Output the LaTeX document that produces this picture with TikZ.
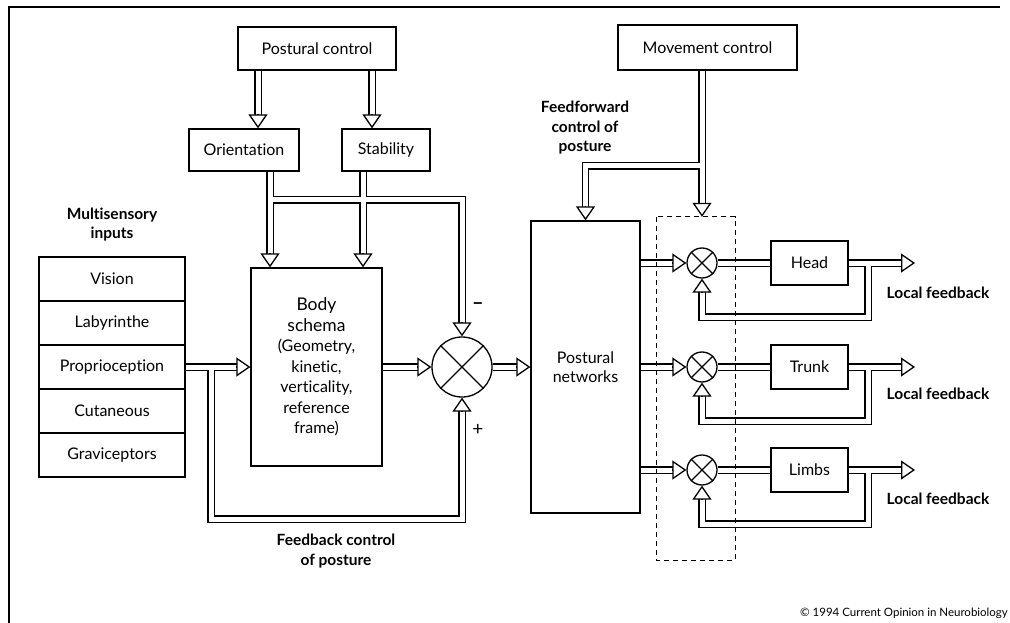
\documentclass[tikz,border=0pt]{standalone}
\usepackage{fontspec}
\setmainfont{Lato}[Ligatures={TeX,NoCommon}]
\usetikzlibrary{arrows.meta,calc}
\begin{document}
\begin{tikzpicture}[x=1pt,y=-1pt,
  box/.style={draw, line width=1.3pt, fill=white, inner sep=0pt, align=center, font=\fontsize{16}{19}\selectfont},
  chan/.style={draw=black, double=white, double distance=5pt, line width=1.3pt, line join=miter},
  tipa/.style={-{Triangle[open,fill=white,length=14pt,width=19pt]}, line width=1.3pt},
  lbl/.style={font=\bfseries\fontsize{15.5}{19.5}\selectfont, align=center, inner sep=0pt},
  summ/.style={circle, draw, line width=1.3pt, fill=white, inner sep=0pt},
  dbx/.style={draw, line width=1.3pt, dash pattern=on 5pt off 4pt}]
\fill[white] (0,0) rectangle (1010,623);
\useasboundingbox (0,0) rectangle (1010,623);
\draw[line width=1.5pt] (1000,7) -- (9,7) -- (9,623);

% boxes
\node[box, minimum width=158pt, minimum height=43pt] (pc) at (317,48.5) {Postural control};
\node[box, minimum width=110pt, minimum height=42pt] (ori) at (244,150) {Orientation};
\node[box, minimum width=88pt, minimum height=42pt] (stab) at (386,150) {Stability};
\node[box, minimum width=131pt, minimum height=198pt, font=\fontsize{16}{20.5}\selectfont] (body) at (316.5,367)
  {\fontsize{17.5}{22}\selectfont Body\\\fontsize{17.5}{22}\selectfont schema\\\fontsize{16}{21}\selectfont (Geometry,\\kinetic,\\verticality,\\reference\\frame)};
\node[box, minimum width=146pt, minimum height=44pt] (vis) at (112,279) {Vision};
\node[box, minimum width=146pt, minimum height=44pt] (lab) at (112,323) {Labyrinthe};
\node[box, minimum width=146pt, minimum height=44pt] (pro) at (112,367) {Proprioception};
\node[box, minimum width=146pt, minimum height=44pt] (cut) at (112,411) {Cutaneous};
\node[box, minimum width=146pt, minimum height=44pt] (gra) at (112,455) {Graviceptors};
\node[summ, minimum size=60pt] (sum) at (462,367) {};
\node[box, minimum width=109pt, minimum height=292pt] (pn) at (585.5,367) {Postural\\networks};
\node[box, minimum width=179pt, minimum height=45pt] (mc) at (707.5,47.5) {Movement control};
\node[inner sep=0pt, minimum width=78pt, minimum height=343pt] (dbox) at (696,388.5) {};
\node[summ, minimum size=30pt] (s1) at (702,263) {};
\node[summ, minimum size=30pt] (s2) at (702,367) {};
\node[summ, minimum size=30pt] (s3) at (702,470) {};
\node[box, minimum width=77pt, minimum height=44pt] (head) at (809.5,263) {Head};
\node[box, minimum width=77pt, minimum height=44pt] (trunk) at (809.5,367) {Trunk};
\node[box, minimum width=77pt, minimum height=44pt] (limbs) at (809.5,470) {Limbs};

\foreach \c in {sum,s1,s2,s3}{
  \draw[line width=1.3pt] (\c.north west) -- (\c.south east) (\c.north east) -- (\c.south west);
}

% free coordinates
\coordinate (jo) at (270,200);
\coordinate (jr) at (462,200);
\coordinate (jp) at (211,367);
\coordinate (jb) at (211,519);
\coordinate (jc) at (462,519);
\coordinate (ff) at (702,166);
\coordinate (ff2) at (585.5,166);
\coordinate (o1) at (915,263);
\coordinate (o2) at (915,367);
\coordinate (o3) at (915,470);

% channels
\draw[chan] ($(pc.south)+(-59,0)$) -- ($(ori.north)+(14,-13)$);
\draw[chan] ($(pc.south)+(55,0)$) -- ($(stab.north)+(-14,-13)$);
\draw[chan] ($(ori.south)+(26,0)$) -- ($(body.north)+(-46.5,-13)$)
  ($(stab.south)+(-23,0)$) -- ($(body.north)+(46.5,-13)$)
  (jo) -- (jr) -- ($(sum.north)+(0,-13)$);
\draw[chan] (pro.east) -- ($(body.west)+(-13,0)$)
  (jp) -- (jb) -- (jc) -- ($(sum.south)+(0,13)$);
\draw[chan] (body.east) -- ($(sum.west)+(-13,0)$);
\draw[chan] (sum.east) -- ($(pn.west)+(-13,0)$);
\draw[chan] (s1 |- mc.south) -- ($(s1 |- dbox.north)+(0,-13)$)
  (ff) -- (ff2) -- ($(pn.north)+(0,-13)$);
\foreach \s/\b/\o in {s1/head/o1,s2/trunk/o2,s3/limbs/o3}{
  \draw[chan] (pn.east |- \s) -- ($(\s.west)+(-13,0)$);
  \draw[chan] (\s.east) -- (\b.west);
  \draw[chan] (\b.east) -- ($(\o)+(-13,0)$)
    ($(\o)+(-47,0)$) -- ($(\o)+(-47,54)$) -- ($(\s)+(0,54)$) -- ($(\s.south)+(0,13)$);
  \draw[tipa] ($(\s.west)+(-14,0)$) -- (\s.west);
  \draw[tipa] ($(\s.south)+(0,14)$) -- (\s.south);
  \draw[tipa] ($(\o)+(-14,0)$) -- (\o);
}

% tips
\draw[tipa] ($(ori.north)+(14,-14)$) -- ($(ori.north)+(14,0)$);
\draw[tipa] ($(stab.north)+(-14,-14)$) -- ($(stab.north)+(-14,0)$);
\draw[tipa] ($(body.north)+(-46.5,-14)$) -- ($(body.north)+(-46.5,0)$);
\draw[tipa] ($(body.north)+(46.5,-14)$) -- ($(body.north)+(46.5,0)$);
\draw[tipa] ($(sum.north)+(0,-14)$) -- (sum.north);
\draw[tipa] ($(sum.south)+(0,14)$) -- (sum.south);
\draw[tipa] ($(body.west)+(-14,0)$) -- (body.west);
\draw[tipa] ($(sum.west)+(-14,0)$) -- (sum.west);
\draw[tipa] ($(pn.west)+(-14,0)$) -- (pn.west);
\draw[tipa] ($(pn.north)+(0,-14)$) -- (pn.north);
\draw[tipa] ($(s1 |- dbox.north)+(0,-14)$) -- (s1 |- dbox.north);

% dashed box
\draw[dbx] (dbox.north west) rectangle (dbox.south east);

% labels
\node[lbl] (msi) at (112,224.5) {Multisensory\\inputs};
\node[lbl] (fbc) at (336,551) {Feedback control\\of posture};
\node[lbl] (ffc) at (585,128) {Feedforward\\control of\\posture};
\node[lbl] (lf1) at (938,293) {Local feedback};
\node[lbl] (lf2) at (938,394) {Local feedback};
\node[lbl] (lf3) at (938,499) {Local feedback};
\node[font=\bfseries\fontsize{20}{20}\selectfont, inner sep=0pt] (minus) at (478,306) {–};
\node[font=\fontsize{19}{19}\selectfont, inner sep=0pt] (plus) at (478,430) {+};
\node[anchor=east, inner sep=0pt, font=\fontsize{11.5}{12}\selectfont] (copy) at (1008,613) {© 1994 Current Opinion in Neurobiology};
\end{tikzpicture}
\end{document}
